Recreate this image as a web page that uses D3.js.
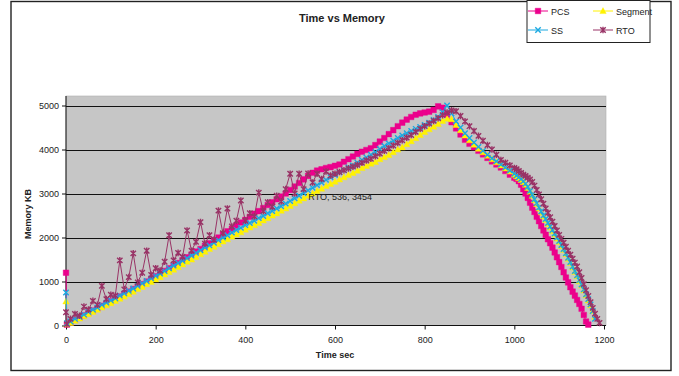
<!DOCTYPE html>
<html><head><meta charset="utf-8">
<script src="https://cdn.jsdelivr.net/npm/d3@7"></script>
<style>
body{margin:0;background:#fff}
svg{display:block}
text{font-family:"Liberation Sans",Arial,sans-serif;fill:#222}
</style>
</head><body><svg id="c" width="679" height="376"></svg>
<script>
const timeSec = [0,2,10,20,30,40,50,60,70,80,
 90,100,110,120,130,140,150,160,170,180,
 190,200,210,220,230,240,250,260,270,280,
 290,300,310,320,330,340,350,360,370,380,
 390,400,410,420,430,440,450,460,470,480,
 490,500,510,520,530,540,550,560,570,580,
 590,600,610,620,630,640,650,660,670,680,
 690,700,710,720,730,740,750,760,770,780,
 790,800,810,820,830,840,850,860,870,880,
 890,900,910,920,930,940,950,960,970,980,
 990,
 1000,1005,1010,1015,1020,1025,1030,1035,1040,1045,
 1050,1055,1060,1065,1070,1075,1080,1085,1090,1095,
 1100,1105,1110,1115,1120,1125,1130,1135,1140,1145,
 1150,1155,1160,1165,1170,1175,1180,1185,1190];

const pcsKB = [1200,20,70,130,180,230,290,340,390,450,
 500,550,610,660,720,770,830,890,940,1000,
 1060,1120,1180,1240,1300,1360,1420,1490,1550,1610,
 1680,1740,1810,1870,1940,2000,2070,2140,2200,2270,
 2340,2400,2470,2540,2600,2670,2740,2800,2870,2930,
 3000,3080,3160,3240,3320,3400,3470,3520,3550,3580,
 3600,3630,3660,3720,3780,3840,3900,3950,3990,4030,
 4100,4180,4260,4350,4440,4530,4610,4680,4740,4790,
 4820,4840,4860,4900,4980,4950,4800,4620,4480,4340,
 4220,4130,4050,3970,3890,3810,3730,3660,3590,3510,
 3430,
 3360,3330,3280,3200,3100,3000,2900,2790,2680,2580,
 2470,2370,2260,2160,2060,1960,1870,1770,1660,1550,
 1440,1330,1210,1090,980,870,770,680,580,490,
 380,240,90,20,null,null,null,null,null];

const segmentKB = [550,30,60,110,160,210,260,310,360,410,
 460,510,560,610,660,710,770,830,880,940,
 990,1050,1100,1160,1220,1270,1330,1390,1450,1500,
 1560,1620,1680,1740,1790,1850,1910,1960,2020,2070,
 2120,2180,2230,2280,2330,2390,2440,2500,2550,2610,
 2660,2720,2780,2840,2890,2950,3000,3060,3110,3170,
 3220,3270,3320,3370,3420,3470,3520,3580,3630,3680,
 3720,3780,3830,3880,3940,4000,4050,4120,4190,4260,
 4330,4400,4460,4520,4580,4650,4700,4690,4560,4440,
 4320,4210,4110,4020,3940,3860,3780,3710,3640,3570,
 3500,
 3430,3390,3350,3310,3260,3200,3130,3040,2950,2850,
 2760,2660,2570,2480,2400,2310,2230,2150,2070,1980,
 1900,1810,1720,1620,1520,1420,1320,1220,1120,1010,
 910,800,690,570,460,330,200,null,null];

const ssKB = [750,50,90,150,200,250,310,360,410,470,
 520,570,620,680,730,790,840,900,960,1010,
 1070,1130,1180,1240,1300,1360,1420,1470,1530,1590,
 1650,1710,1770,1820,1880,1940,2000,2050,2110,2170,
 2220,2280,2330,2380,2440,2490,2550,2600,2660,2710,
 2770,2830,2890,2950,3010,3070,3130,3190,3250,3310,
 3370,3420,3480,3530,3590,3640,3700,3760,3820,3880,
 3940,4010,4080,4140,4200,4260,4320,4370,4420,4470,
 4510,4560,4610,4670,4740,4850,5000,4820,4640,4500,
 4370,4260,4160,4060,3970,3880,3800,3730,3660,3590,
 3520,
 3450,3410,3370,3330,3280,3220,3150,3060,2970,2870,
 2780,2680,2590,2500,2420,2330,2250,2170,2090,2000,
 1920,1830,1740,1640,1540,1440,1340,1240,1140,1030,
 930,820,710,600,480,330,150,null,null];

const rtoKB = [300,30,150,260,220,430,360,560,470,900,
 600,700,680,1480,820,1100,1640,980,1200,1700,
 1150,1300,1250,1450,2050,1480,1650,1560,2160,1700,
 1900,2350,1860,2050,1950,2610,2100,2660,2250,2380,
 2840,2380,2550,2480,3020,2600,2800,2700,2950,2820,
 3100,3450,3000,3450,3100,3454,3250,3450,3330,3500,
 3410,3450,3490,3530,3570,3610,3650,3700,3750,3790,
 3850,3910,3970,4030,4090,4150,4210,4270,4330,4400,
 4470,4530,4590,4650,4710,4780,4840,4890,4870,4760,
 4640,4530,4420,4310,4200,4100,4000,3880,3760,3700,
 3640,
 3580,3550,3510,3470,3430,3400,3360,3320,3260,3180,
 3080,2980,2870,2770,2660,2560,2460,2360,2260,2160,
 2060,1970,1880,1790,1700,1610,1520,1430,1340,1210,
 1080,940,800,670,530,400,270,150,60];

const seriesNames = ["PCS","Segment","SS","RTO"];
const seriesValues = [pcsKB, segmentKB, ssKB, rtoKB];
const seriesColors = ["#EC008C","#FFF200","#1BA9E1","#993366"];
const seriesMarkers = ["square","triangle","x","star"];
const xTickValues = [0,200,400,600,800,1000,1200];
const yTickValues = [0,1000,2000,3000,4000,5000];
const chartTitle = "Time vs Memory";
const xAxisTitle = "Time sec";
const yAxisTitle = "Memory KB";
const labelSeries = "RTO", labelTime = 536, labelValue = 3454;

const svg = d3.select("#c");
const plot = {left:66, right:606, top:96, bottom:325.5};
const x = d3.scaleLinear().domain([0,1200]).range([66,604]);
const y = d3.scaleLinear().domain([0,5000]).range([325.5,105.5]);

// chart border
svg.append("rect").attr("x",11).attr("y",1.5).attr("width",660).attr("height",369)
  .attr("fill","#fff").attr("stroke","#222").attr("stroke-width",1.4);

// plot area
svg.append("rect").attr("x",plot.left).attr("y",plot.top)
  .attr("width",plot.right-plot.left).attr("height",plot.bottom-plot.top)
  .attr("fill","#C6C6C6").attr("stroke","#b0b0b0").attr("stroke-width",0.6);

// gridlines
svg.append("g").selectAll("line").data(yTickValues.filter(d=>d>0)).join("line")
  .attr("x1",plot.left).attr("x2",plot.right)
  .attr("y1",d=>Math.round(y(d))+0.5).attr("y2",d=>Math.round(y(d))+0.5)
  .attr("stroke","#111").attr("stroke-width",1);

// axes
const xAxis = svg.append("g").attr("transform",`translate(0,${plot.bottom})`)
  .call(d3.axisBottom(x).tickValues(xTickValues).tickSize(4).tickSizeOuter(0).tickPadding(7).tickFormat(d3.format("d")));
xAxis.select(".domain").attr("d",`M${plot.left},0H${plot.right}`).attr("stroke","#111");
xAxis.selectAll(".tick line").attr("stroke","#111");
xAxis.selectAll("text").attr("font-size",9).attr("fill","#222");

const yAxis = svg.append("g").attr("transform",`translate(${plot.left},0)`)
  .call(d3.axisLeft(y).tickValues(yTickValues).tickSize(4).tickSizeOuter(0).tickPadding(3).tickFormat(d3.format("d")));
yAxis.select(".domain").attr("d",`M0,${plot.top}V${plot.bottom}`).attr("stroke","#111");
yAxis.selectAll(".tick line").attr("stroke","#111");
yAxis.selectAll("text").attr("font-size",9).attr("fill","#222");

// titles
svg.append("text").attr("x",342).attr("y",22).attr("text-anchor","middle")
  .attr("font-size",11).attr("font-weight","bold").text(chartTitle);
svg.append("text").attr("x",335).attr("y",358).attr("text-anchor","middle")
  .attr("font-size",9).attr("font-weight","bold").text(xAxisTitle);
svg.append("text").attr("transform","translate(31,214) rotate(-90)").attr("text-anchor","middle")
  .attr("font-size",9).attr("font-weight","bold").text(yAxisTitle);

// markers
function markerPath(type){
  if(type==="square") return "M-2.8,-2.8h5.6v5.6h-5.6z";
  if(type==="triangle") return "M0,-3.4L3.2,2.6L-3.2,2.6Z";
  if(type==="x") return "M-2.7,-2.7L2.7,2.7M-2.7,2.7L2.7,-2.7";
  return "M-2.7,-2.7L2.7,2.7M-2.7,2.7L2.7,-2.7M0,-3.3V3.3";
}
function drawMarker(sel,type,color){
  const filled = type==="square"||type==="triangle";
  sel.attr("d",markerPath(type))
    .attr("fill",filled?color:"none")
    .attr("stroke",color)
    .attr("stroke-width",filled?0.4:1.4);
}

const clipId="plotclip";
svg.append("clipPath").attr("id",clipId).append("rect")
  .attr("x",plot.left-4).attr("y",plot.top-4).attr("width",plot.right-plot.left+8).attr("height",plot.bottom-plot.top+8);
const dataG = svg.append("g").attr("clip-path",`url(#${clipId})`);

seriesNames.forEach((name,i)=>{
  const vals = seriesValues[i];
  const pts = timeSec.map((t,j)=>({t, v:vals[j]})).filter(d=>d.v!=null);
  const line = d3.line().x(d=>x(d.t)).y(d=>y(d.v));
  dataG.append("path").datum(pts).attr("d",line).attr("fill","none")
    .attr("stroke",seriesColors[i]).attr("stroke-width",1);
  dataG.append("g").selectAll("path").data(pts).join("path")
    .attr("transform",d=>`translate(${x(d.t)},${y(d.v)})`)
    .call(drawMarker,seriesMarkers[i],seriesColors[i]);
});

// data label
svg.append("text").attr("x",x(labelTime)+2).attr("y",y(labelValue)+26)
  .attr("font-size",9).attr("fill","#333").text(`${labelSeries}, ${labelTime}, ${labelValue}`);

// legend
const lg = svg.append("g");
lg.append("rect").attr("x",527).attr("y",0.5).attr("width",123).attr("height",42)
  .attr("fill","#fff").attr("stroke","#222").attr("stroke-width",1);
const legendPos = [[528,11],[593,11],[528,30],[593,30]];
seriesNames.forEach((name,i)=>{
  const [lx,ly]=legendPos[i];
  lg.append("line").attr("x1",lx).attr("x2",lx+20).attr("y1",ly).attr("y2",ly)
    .attr("stroke",seriesColors[i]).attr("stroke-width",1);
  lg.append("path").attr("transform",`translate(${lx+10},${ly})`).call(drawMarker,seriesMarkers[i],seriesColors[i]);
  lg.append("text").attr("x",lx+23).attr("y",ly+3.5).attr("font-size",9).text(name);
});
</script>
</body></html>
